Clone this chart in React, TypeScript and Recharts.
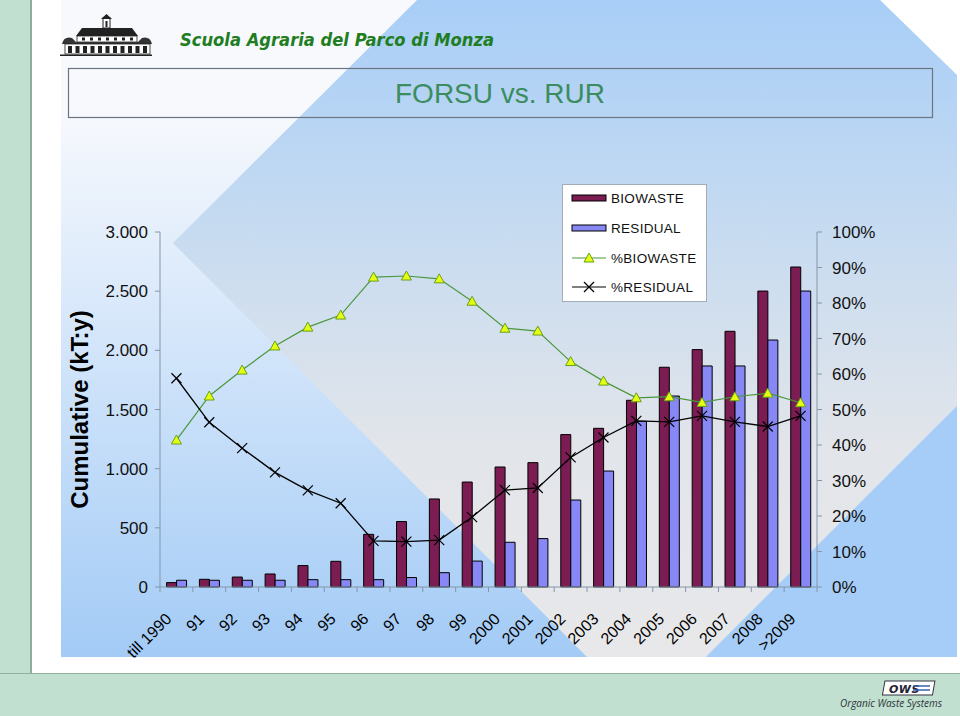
import React from 'react';
import { ComposedChart, Bar, Line, XAxis, YAxis, Legend } from 'recharts';

const CATEGORIES = ['till 1990', '91', '92', '93', '94', '95', '96', '97', '98', '99', '2000', '2001', '2002', '2003', '2004', '2005', '2006', '2007', '2008', '>2009'];
// cumulative kT per year
const BIOWASTE = [37, 65, 84, 110, 181, 217, 445, 553, 744, 887, 1014, 1051, 1288, 1341, 1578, 1857, 2006, 2161, 2501, 2704];
const RESIDUAL = [57, 57, 57, 57, 62, 62, 62, 80, 121, 219, 378, 409, 735, 980, 1400, 1614, 1868, 1868, 2087, 2501];
// shares, %
const PCT_BIOWASTE = [41.4, 53.8, 61.1, 67.9, 73.2, 76.6, 87.3, 87.6, 86.8, 80.5, 72.9, 72.1, 63.5, 58.0, 53.3, 53.6, 52.0, 53.6, 54.6, 51.9];
const PCT_RESIDUAL = [58.8, 46.4, 39.1, 32.3, 27.2, 23.6, 13.0, 12.8, 13.2, 19.7, 27.3, 27.9, 36.5, 42.1, 46.8, 46.5, 48.2, 46.5, 45.2, 48.2];
const LEFT_TICKS = [0, 500, 1000, 1500, 2000, 2500, 3000];
const RIGHT_TICKS = [0, 10, 20, 30, 40, 50, 60, 70, 80, 90, 100];

const data = CATEGORIES.map((year, i) => ({
  year,
  biowaste: BIOWASTE[i],
  residual: RESIDUAL[i],
  pctBio: PCT_BIOWASTE[i],
  pctRes: PCT_RESIDUAL[i],
}));

const W = 960;
const H = 716;
const FONT = '"Liberation Sans", Arial, sans-serif';
const AXIS = '#8596a8';
const BIO_FILL = '#7b1d53';
const RES_FILL = '#8787f6';
const TRI_FILL = '#e4ff10';
const TRI_STROKE = '#6a9e1c';
const GREEN_LINE = '#4a983c';

const dots = (n: number) => String(n).replace(/\B(?=(\d{3})+(?!\d))/g, '.');

function Triangle({ cx, cy, s = 5 }: { cx: number; cy: number; s?: number }) {
  return <path d={`M${cx},${cy - s} L${cx + s},${cy + s * 0.8} L${cx - s},${cy + s * 0.8} Z`} fill={TRI_FILL} stroke={TRI_STROKE} strokeWidth={1} />;
}

function Cross({ cx, cy, s = 5 }: { cx: number; cy: number; s?: number }) {
  return (
    <g stroke="#000" strokeWidth={1.2}>
      <line x1={cx - s} y1={cy - s} x2={cx + s} y2={cy + s} />
      <line x1={cx - s} y1={cy + s} x2={cx + s} y2={cy - s} />
    </g>
  );
}

const triDot = (p: any) => <Triangle key={`t${p.index}`} cx={p.cx} cy={p.cy} />;
const crossDot = (p: any) => <Cross key={`x${p.index}`} cx={p.cx} cy={p.cy} />;

function YearTick(props: any) {
  const { y, payload, index } = props;
  const cx = payload.coordinate;
  const half = payload.offset || 16.4;
  const axisY = y - 5;
  const ax = cx - 4;
  const ay = axisY + 33;
  return (
    <g>
      <line x1={cx - half} x2={cx - half} y1={axisY} y2={axisY + 5} stroke={AXIS} />
      {index === CATEGORIES.length - 1 && <line x1={cx + half} x2={cx + half} y1={axisY} y2={axisY + 5} stroke={AXIS} />}
      <text x={ax} y={ay} transform={`rotate(-45 ${ax} ${ay})`} textAnchor="end" fontSize={16} fontFamily={FONT} fill="#000">
        {payload.value}
      </text>
    </g>
  );
}

function AxisTitle(props: any) {
  const vb = props.viewBox || { x: 100, y: 232, height: 355 };
  const x = vb.x - 12;
  const y = vb.y + vb.height / 2;
  return (
    <text x={x} y={y} transform={`rotate(-90 ${x} ${y})`} textAnchor="middle" fontSize={24} fontWeight="bold" fontFamily={FONT} fill="#000">
      Cumulative (kT:y)
    </text>
  );
}

function LegendBox() {
  const rows = [
    { label: 'BIOWASTE', kind: 'bar', fill: BIO_FILL },
    { label: 'RESIDUAL', kind: 'bar', fill: RES_FILL },
    { label: '%BIOWASTE', kind: 'tri' },
    { label: '%RESIDUAL', kind: 'cross' },
  ];
  const ys = [13, 43, 73, 102];
  return (
    <div style={{ width: 145, height: 118, background: '#fff', border: '1px solid #a3abb5', boxSizing: 'border-box' }}>
      <svg width={143} height={116}>
        {rows.map((r, i) => {
          const cy = ys[i];
          return (
            <g key={r.label}>
              {r.kind === 'bar' && <rect x={9} y={cy - 3} width={34} height={6} fill={r.fill} stroke="#000" strokeWidth={1} />}
              {r.kind === 'tri' && (
                <g>
                  <line x1={9} x2={43} y1={cy} y2={cy} stroke={GREEN_LINE} />
                  <Triangle cx={26} cy={cy} />
                </g>
              )}
              {r.kind === 'cross' && (
                <g>
                  <line x1={9} x2={43} y1={cy} y2={cy} stroke="#000" strokeWidth={1.2} />
                  <Cross cx={26} cy={cy} />
                </g>
              )}
              <text x={48} y={cy + 5} fontSize={13.5} fontFamily={FONT} fill="#111" letterSpacing={0.3}>
                {r.label}
              </text>
            </g>
          );
        })}
      </svg>
    </div>
  );
}

function Building() {
  const wins = Array.from({ length: 11 }, (_, i) => 68 + i * 7.5);
  const upper = Array.from({ length: 7 }, (_, i) => 82 + i * 8);
  return (
    <g>
      <rect x={103} y={18} width={7} height={10} fill="#fff" stroke="#222" />
      <path d="M101,19 L106.5,14 L112,19 Z" fill="#222" />
      <rect x={105.5} y={21} width={2} height={6} fill="#222" />
      <path d="M76,36 L82,28 L132,28 L138,36 Z" fill="#222" />
      <rect x={77} y={36} width={60} height={6} fill="#fff" stroke="#222" strokeWidth={0.8} />
      {upper.map((x) => <rect key={x} x={x} y={37.5} width={3} height={3} fill="#222" />)}
      <path d="M62,44 Q64,36 72,38 L76,42 L138,42 L142,38 Q150,36 152,44 Z" fill="#333" />
      <rect x={65} y={44} width={85} height={10} fill="#fff" stroke="#222" strokeWidth={0.8} />
      {wins.map((x) => <rect key={x} x={x} y={46} width={4} height={7} fill="#222" />)}
      <rect x={60} y={54.5} width={92} height={1.5} fill="#222" />
    </g>
  );
}

function Backdrop() {
  return (
    <svg width={W} height={H} style={{ position: 'absolute', left: 0, top: 0 }}>
      <defs>
        <linearGradient id="leftFade" gradientUnits="userSpaceOnUse" x1="0" y1="110" x2="0" y2="657">
          <stop offset="0" stopColor="#f7f9fd" />
          <stop offset="1" stopColor="#a3cbf6" />
        </linearGradient>
        <linearGradient id="bandFade" gradientUnits="userSpaceOnUse" x1="0" y1="0" x2="0" y2="657">
          <stop offset="0" stopColor="#a8cef7" />
          <stop offset="0.38" stopColor="#c9dcf0" />
          <stop offset="0.68" stopColor="#e2e5ea" />
          <stop offset="1" stopColor="#e8e8ea" />
        </linearGradient>
      </defs>
      <rect x={0} y={0} width={W} height={H} fill="#fff" />
      <rect x={0} y={0} width={30} height={H} fill="#c2e0cf" />
      <rect x={30} y={0} width={2} height={H} fill="#8cae9c" />
      <polygon points="61,0 880,0 957,75 957,657 61,657" fill="url(#leftFade)" />
      <polygon points="417,0 880,0 957,75 957,406 706,657 587,657 173,243" fill="url(#bandFade)" />
      <polygon points="957,406 957,657 706,657" fill="#a6cdf7" />
      <rect x={0} y={673} width={W} height={H - 673} fill="#c2e0cf" />
      <line x1={0} x2={W} y1={673.5} y2={673.5} stroke="#94ae9f" />
      <Building />
      <text x={180} y={46} fontFamily="'DejaVu Sans', Verdana, sans-serif" fontWeight="bold" fontStyle="italic" fontSize={17} fill="#1f7d22" textLength={314} lengthAdjust="spacingAndGlyphs">
        Scuola Agraria del Parco di Monza
      </text>
      <rect x={68.5} y={68.5} width={864} height={49} fill="none" stroke="#6b7580" strokeWidth={1.2} />
      <text x={500} y={103} textAnchor="middle" fontFamily={FONT} fontSize={28} fill="#3b8d5f">
        FORSU vs. RUR
      </text>
      <g>
        <rect x={885} y={681} width={50} height={14} fill="#fff" stroke="#334" strokeWidth={1} transform="skewX(-10) translate(120 0)" />
        <text x={889} y={693} fontFamily="'DejaVu Sans', sans-serif" fontStyle="italic" fontWeight="bold" fontSize={11} fill="#223" letterSpacing={0.5}>OWS</text>
        <line x1={913} x2={930} y1={686} y2={686} stroke="#3a5fb0" strokeWidth={1.5} />
        <line x1={913} x2={930} y1={690} y2={690} stroke="#3a5fb0" strokeWidth={1.5} />
        <text x={840} y={707} fontFamily="'Open Sans', sans-serif" fontStyle="italic" fontSize={10} fill="#2a3440">Organic Waste Systems</text>
      </g>
    </svg>
  );
}

export default function App() {
  return (
    <div style={{ position: 'absolute', left: 0, top: 0, width: W, height: H, overflow: 'hidden' }}>
      <Backdrop />
      <div style={{ position: 'absolute', left: 0, top: 0 }}>
        <ComposedChart width={W} height={H} data={data} margin={{ top: 232, right: 83, bottom: 99, left: 100 }} barCategoryGap="20%" barGap={0}>
          <XAxis dataKey="year" interval={0} height={30} tickSize={5} tickMargin={0} tickLine={false} axisLine={{ stroke: AXIS }} tick={<YearTick />} />
          <YAxis
            yAxisId="kt"
            width={60}
            domain={[0, 3000]}
            ticks={LEFT_TICKS}
            tickFormatter={dots}
            tickSize={5}
            tickMargin={7}
            axisLine={{ stroke: AXIS }}
            tickLine={{ stroke: AXIS }}
            tick={{ fontSize: 17, fill: '#111', fontFamily: FONT }}
            label={<AxisTitle />}
          />
          <YAxis
            yAxisId="pct"
            orientation="right"
            width={60}
            domain={[0, 100]}
            ticks={RIGHT_TICKS}
            tickFormatter={(v: number) => `${v}%`}
            tickSize={5}
            tickMargin={10}
            axisLine={{ stroke: AXIS }}
            tickLine={{ stroke: AXIS }}
            tick={{ fontSize: 17, fill: '#111', fontFamily: FONT, textAnchor: 'start' }}
          />
          <Legend layout="horizontal" align="center" verticalAlign="middle" wrapperStyle={{ position: 'absolute', left: 562, top: 184, width: 145, height: 118 }} content={() => <LegendBox />} />
          <Bar yAxisId="kt" dataKey="biowaste" name="BIOWASTE" fill={BIO_FILL} stroke="#000" strokeWidth={1} isAnimationActive={false} />
          <Bar yAxisId="kt" dataKey="residual" name="RESIDUAL" fill={RES_FILL} stroke="#000" strokeWidth={1} isAnimationActive={false} />
          <Line yAxisId="pct" type="linear" dataKey="pctBio" name="%BIOWASTE" stroke={GREEN_LINE} strokeWidth={1.2} dot={triDot} activeDot={false} isAnimationActive={false} />
          <Line yAxisId="pct" type="linear" dataKey="pctRes" name="%RESIDUAL" stroke="#000" strokeWidth={1.3} dot={crossDot} activeDot={false} isAnimationActive={false} />
        </ComposedChart>
      </div>
    </div>
  );
}
